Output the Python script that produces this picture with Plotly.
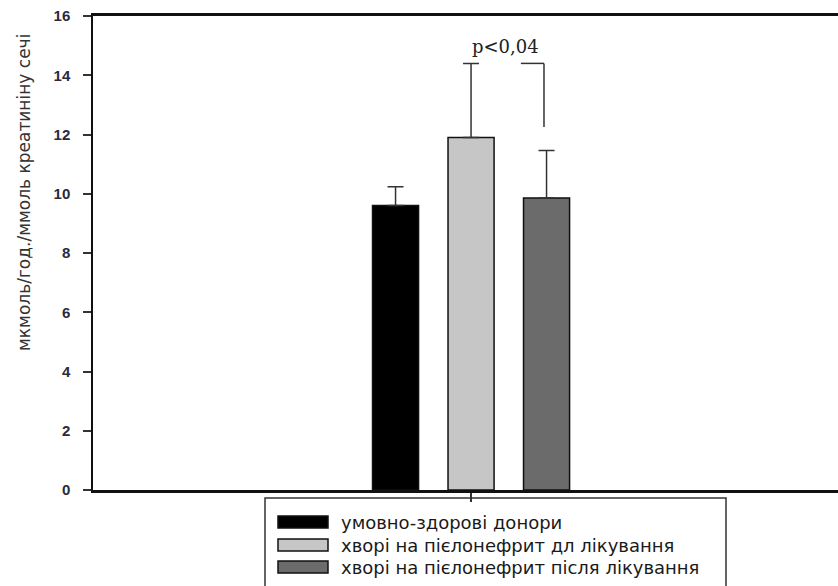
import plotly.graph_objects as go

# ---- data ----
groups = ["умовно-здорові донори",
          "хворі на пієлонефрит дл лікування",
          "хворі на пієлонефрит після лікування"]
means = [9.6, 11.9, 9.86]
sds = [0.64, 2.5, 1.6]
colors = ["#000000", "#c6c6c6", "#6b6b6b"]
y_ticks = [0, 2, 4, 6, 8, 10, 12, 14, 16]
p_label = "p<0,04"
y_title = "мкмоль/год./ммоль креатиніну сечі"

W, H = 838, 586
L, R, T, B = 93, 838, 16, 490  # plot area in px


def px(x):
    return (x - L) / (R - L)


def py(y):
    return (B - y) / (B - T)


fig = go.Figure()
for name, m, s, c in zip(groups, means, sds, colors):
    fig.add_trace(go.Bar(
        x=[0], y=[m], name=name, marker_color=c,
        marker_line=dict(color="#111111", width=1.5),
        error_y=dict(type="data", array=[s], arrayminus=[0], symmetric=False,
                     color="#333333", thickness=1.5, width=8),
        showlegend=False,
    ))

# significance bracket between group 2 and 3
top = means[1] + sds[1]
fig.add_shape(type="line", xref="x", yref="y", x0=0.22, x1=0.322, y0=top, y1=top,
              line=dict(color="#333333", width=1.5))
fig.add_shape(type="line", xref="x", yref="y", x0=0.322, x1=0.322, y0=top, y1=12.25,
              line=dict(color="#333333", width=1.5))
fig.add_annotation(x=0.15, y=top + 0.58, xref="x", yref="y", text=p_label,
                   showarrow=False, font=dict(family="DejaVu Serif", size=18, color="#222222"))

# y title
fig.add_annotation(x=px(24), y=py(193), xref="paper", yref="paper", text=y_title,
                   xanchor="center", yanchor="middle",
                   textangle=-90, showarrow=False,
                   font=dict(family="DejaVu Sans", size=17, color="#333333"))

# manual legend box
fig.add_shape(type="rect", xref="paper", yref="paper", x0=px(265), x1=px(726),
              y0=py(640), y1=py(498), line=dict(color="#333333", width=1.5),
              fillcolor="white", layer="below")
row_y = [522, 545, 567]
for name, c, ry in zip(groups, colors, row_y):
    fig.add_shape(type="rect", xref="paper", yref="paper", x0=px(278), x1=px(328),
                  y0=py(ry + 6), y1=py(ry - 6), fillcolor=c,
                  line=dict(color="#111111", width=1.5))
    fig.add_annotation(x=px(339), y=py(ry), xref="paper", yref="paper", text=name,
                       xanchor="left", yanchor="middle", showarrow=False,
                       font=dict(family="DejaVu Sans", size=18, color="#1a1a1a"))

fig.update_layout(
    width=W, height=H,
    margin=dict(l=L, r=W - R, t=T, b=H - B, pad=0),
    paper_bgcolor="white", plot_bgcolor="white",
    barmode="group", bargap=0.0, bargroupgap=0.39,
    showlegend=False,
)
fig.update_xaxes(type="linear", range=[-1.669, 1.620], showgrid=False, zeroline=False,
                 showline=True, linecolor="#111111", linewidth=2.5, mirror=True,
                 ticks="outside", ticklen=9, tickwidth=1.5, tickcolor="#333333",
                 tickvals=[0], showticklabels=False)
fig.update_yaxes(range=[0, 16], tickvals=y_ticks, showgrid=False, zeroline=False,
                 showline=True, linecolor="#111111", linewidth=1.5,
                 ticks="outside", ticklen=8, tickwidth=1.5, tickcolor="#333333",
                 ticklabelstandoff=10,
                 tickfont=dict(family="Liberation Sans", size=15, color="#2a2a3a", weight="bold"))

fig.write_html("out.html", config={"displayModeBar": False},
               post_script="document.body.style.margin='0';")
